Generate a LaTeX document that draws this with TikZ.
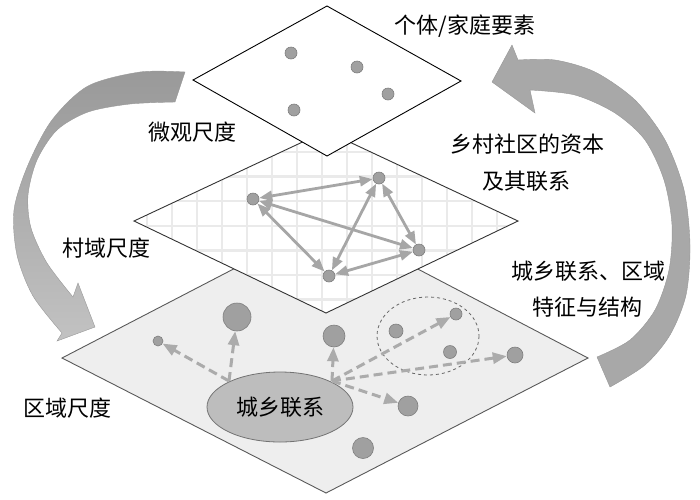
\documentclass[tikz,border=0pt]{standalone}
\usepackage{fontspec}
\newfontfamily\cjk{Noto Sans CJK SC}
\usetikzlibrary{arrows.meta,shapes.geometric}
\definecolor{dotfill}{HTML}{A0A0A0}
\definecolor{dotdraw}{HTML}{7E7E7E}
\definecolor{linkc}{HTML}{A6A6A6}
\definecolor{dlinkc}{HTML}{ABABAB}
\definecolor{plane}{HTML}{EEEEEE}
\definecolor{gridc}{HTML}{EAEAEA}
\definecolor{cityfill}{HTML}{BDBDBD}
\definecolor{arrowtop}{HTML}{999999}
\definecolor{arrowbot}{HTML}{C2C2C2}
\definecolor{arrowr}{HTML}{A8A8A8}
\begin{document}
\begin{tikzpicture}[x=1pt,y=-1pt,
  lab/.style={font=\cjk\fontsize{22}{25}\selectfont, inner sep=0pt},
  ball/.style={circle, fill=dotfill, draw=dotdraw, line width=0.6pt, inner sep=0pt, minimum size=#1},
  link/.style={draw=linkc, line width=2.8pt, {Triangle[length=13pt,width=10pt]}-{Triangle[length=13pt,width=10pt]}},
  dlink/.style={draw=dlinkc, line width=3pt, dash pattern=on 9pt off 5pt, -{Triangle[length=14pt,width=11pt]}}
]
\useasboundingbox (0,0) rectangle (700,499);

% ---------- big curved arrows ----------
\shade[top color=arrowtop, bottom color=arrowbot, draw=arrowtop, line width=0.4pt]
  plot[smooth] coordinates {(185,72) (140,72) (88,86) (52,120) (28,165) (14,210) (17,255) (33,296) (62,333)}
  -- (57,341) -- (95,327) -- (78,283) -- (73,297)
  -- plot[smooth] coordinates {(73,297) (47,263) (31,228) (28,195) (37,160) (57,130) (88,112) (130,104) (175,102)}
  -- cycle;

\fill[arrowr, draw=arrowr!90!black, line width=0.4pt]
  (492,82) -- (512,45) -- (518,60)
  -- plot[smooth] coordinates {(518,60) (555,60) (595,72) (635,100) (665,140) (684,190) (690,245) (686,295) (670,335) (645,365) (610,387)}
  -- (597,357)
  -- plot[smooth] coordinates {(597,357) (630,340) (655,310) (669,270) (672,225) (664,180) (645,140) (615,113) (575,95) (530,90)}
  -- (535,113) -- cycle;

% ---------- bottom plane ----------
\draw[fill=plane, draw=black!65, line width=0.9pt] (326,221) -- (588,358) -- (326,493) -- (62,358) -- cycle;

\node[ball=10pt] (s1) at (158,341) {};
\node[ball=28pt] (b1) at (237,317) {};
\node[ball=22pt] (m1) at (334,336) {};
\node[ball=14pt] (e1) at (396,331) {};
\node[ball=12pt] (e2) at (456,314) {};
\node[ball=13pt] (e3) at (450,352) {};
\node[ball=16pt] (r1) at (515,355) {};
\node[ball=20pt] (d1) at (408,406) {};
\node[ball=21pt] (d2) at (363,448) {};
\draw[black!60, dashed, line width=0.8pt] (428,336) ellipse [x radius=51, y radius=39];

\node[ellipse, fill=cityfill, draw=black!55, line width=0.8pt, minimum width=146pt, minimum height=70pt, lab] (city) at (280,407) {城乡联系};
\coordinate (h1) at (229,381);
\coordinate (h2) at (332,381);
\draw[dlink] (h1) -- (s1);
\draw[dlink] (h1) -- (b1);
\draw[dlink] (h2) -- (m1);
\draw[dlink] (h2) -- (e2);
\draw[dlink] (h2) -- (r1);
\draw[dlink] (h2) -- (d1);

% ---------- middle plane ----------
\begin{scope}
  \clip (326,131) -- (518,221) -- (326,313) -- (134,221) -- cycle;
  \fill[white] (120,120) rectangle (530,320);
  \foreach \gx in {147,172,...,522} \draw[gridc, line width=2.5pt] (\gx,120) -- (\gx,320);
  \foreach \gy in {127.4,152,...,320} \draw[gridc, line width=2.5pt] (120,\gy) -- (530,\gy);
\end{scope}
\draw[black!80, line width=0.9pt] (326,131) -- (518,221) -- (326,313) -- (134,221) -- cycle;

\node[ball=12pt] (A) at (253,199) {};
\node[ball=12pt] (B) at (379,178) {};
\node[ball=12pt] (C) at (419,250) {};
\node[ball=12pt] (D) at (329,276) {};
\draw[link] (A) -- (B);
\draw[link] (A) -- (C);
\draw[link] (A) -- (D);
\draw[link] (B) -- (C);
\draw[link] (B) -- (D);
\draw[link] (C) -- (D);

% ---------- top plane ----------
\draw[fill=white, draw=black, line width=0.9pt] (327,6) -- (461,81) -- (327,156) -- (193,80) -- cycle;
\node[ball=12pt] (p1) at (291,53) {};
\node[ball=12pt] (p2) at (357,67) {};
\node[ball=12pt] (p3) at (388,94) {};
\node[ball=12pt] (p4) at (294,110) {};

% ---------- labels ----------
\node[lab] (t1) at (465,26) {个体/家庭要素};
\node[lab] (t2) at (192,132) {微观尺度};
\node[lab] (t3) at (106,248) {村域尺度};
\node[lab] (t4) at (67,408) {区域尺度};
\node[lab] (t5) at (527,144) {乡村社区的资本};
\node[lab] (t6) at (526,181) {及其联系};
\node[lab] (t7) at (588,271) {城乡联系、区域};
\node[lab] (t8) at (587,307) {特征与结构};
\end{tikzpicture}
\end{document}
